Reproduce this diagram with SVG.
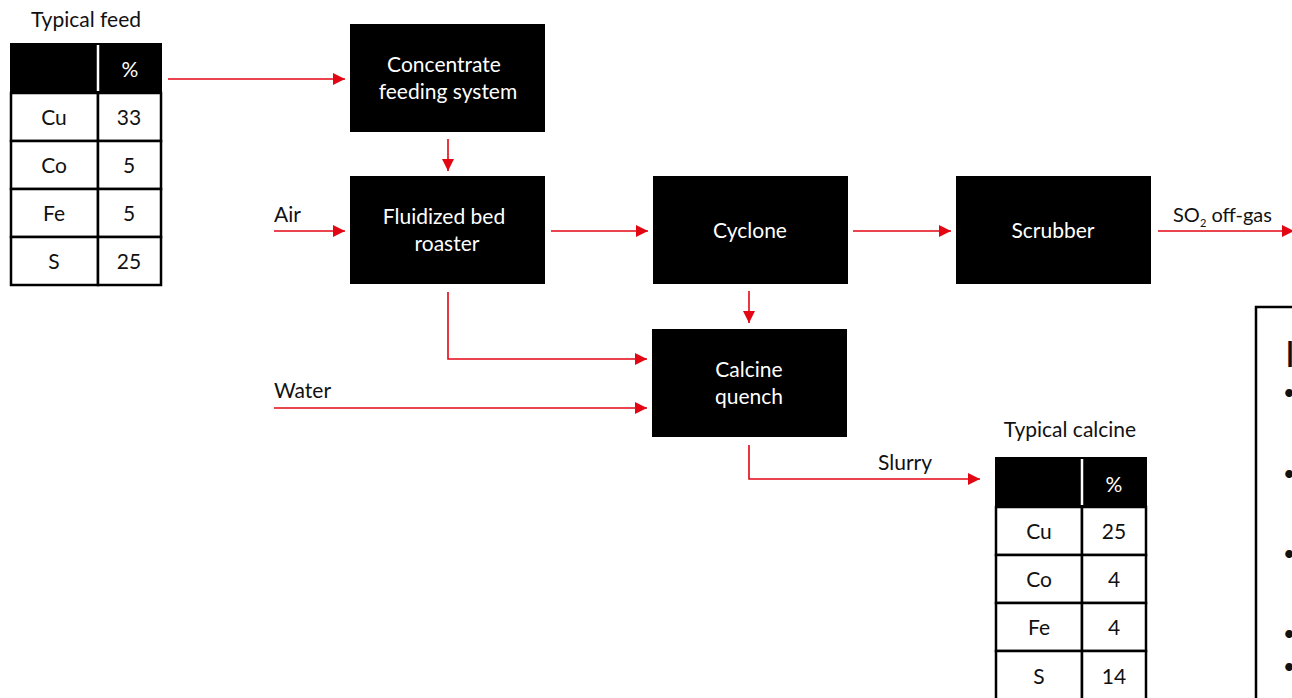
<svg xmlns="http://www.w3.org/2000/svg" width="1292" height="698" viewBox="0 0 1292 698">
<style>
text{font-family:Lato,"Noto Sans","Liberation Sans",sans-serif;font-size:21px;font-weight:400;fill:#111}
.w{fill:#fff;text-anchor:middle}
.c{text-anchor:middle}
.box{fill:#000}
.cell{fill:#fff;stroke:#000;stroke-width:2.5}
.con{fill:none;stroke:#e30613;stroke-width:1.6;marker-end:url(#ah)}
</style>
<defs>
<marker id="ah" markerUnits="userSpaceOnUse" markerWidth="13" markerHeight="12" refX="12" refY="6" orient="auto">
<path d="M0,0 L12,6 L0,12 z" fill="#e30613"/>
</marker>
</defs>
<rect width="1292" height="698" fill="#fff"/>

<g id="feed-table">
<text class="c" x="86" y="27">Typical feed</text>
<rect x="10" y="43" width="152" height="50" fill="#000"/>
<line x1="98" y1="45" x2="98" y2="91" stroke="#fff" stroke-width="2.5"/>
<text class="w" x="130" y="77">%</text>
<rect class="cell" x="11" y="93" width="87" height="48"/>
<rect class="cell" x="98" y="93" width="63" height="48"/>
<rect class="cell" x="11" y="141" width="87" height="48"/>
<rect class="cell" x="98" y="141" width="63" height="48"/>
<rect class="cell" x="11" y="189" width="87" height="48"/>
<rect class="cell" x="98" y="189" width="63" height="48"/>
<rect class="cell" x="11" y="237" width="87" height="48"/>
<rect class="cell" x="98" y="237" width="63" height="48"/>
<text class="c" x="54" y="125">Cu</text><text class="c" x="129" y="125">33</text>
<text class="c" x="54" y="173">Co</text><text class="c" x="129" y="173">5</text>
<text class="c" x="54" y="221">Fe</text><text class="c" x="129" y="221">5</text>
<text class="c" x="54" y="269">S</text><text class="c" x="129" y="269">25</text>
</g>

<g id="concentrate-feeding">
<rect class="box" x="350" y="24" width="195" height="108"/>
<text class="w" x="444" y="72">Concentrate</text>
<text class="w" x="448" y="99">feeding system</text>
</g>

<g id="roaster">
<rect class="box" x="350" y="176" width="195" height="108"/>
<text class="w" x="444" y="224">Fluidized bed</text>
<text class="w" x="447" y="251">roaster</text>
</g>

<g id="cyclone">
<rect class="box" x="653" y="176" width="195" height="108"/>
<text class="w" x="750" y="238">Cyclone</text>
</g>

<g id="scrubber">
<rect class="box" x="956" y="176" width="195" height="108"/>
<text class="w" x="1053" y="238">Scrubber</text>
</g>

<g id="calcine-quench">
<rect class="box" x="652" y="329" width="195" height="108"/>
<text class="w" x="749" y="377">Calcine</text>
<text class="w" x="749" y="404">quench</text>
</g>

<g id="calcine-table">
<text class="c" x="1070" y="437">Typical calcine</text>
<rect x="995" y="457" width="152" height="50" fill="#000"/>
<line x1="1082" y1="459" x2="1082" y2="505" stroke="#fff" stroke-width="2.5"/>
<text class="w" x="1114" y="492">%</text>
<rect class="cell" x="996" y="507" width="86" height="48"/>
<rect class="cell" x="1082" y="507" width="64" height="48"/>
<rect class="cell" x="996" y="555" width="86" height="48"/>
<rect class="cell" x="1082" y="555" width="64" height="48"/>
<rect class="cell" x="996" y="603" width="86" height="48"/>
<rect class="cell" x="1082" y="603" width="64" height="48"/>
<rect class="cell" x="996" y="651" width="86" height="60"/>
<rect class="cell" x="1082" y="651" width="64" height="60"/>
<text class="c" x="1039" y="539">Cu</text><text class="c" x="1114" y="539">25</text>
<text class="c" x="1039" y="587">Co</text><text class="c" x="1114" y="587">4</text>
<text class="c" x="1039" y="635">Fe</text><text class="c" x="1114" y="635">4</text>
<text class="c" x="1039" y="684">S</text><text class="c" x="1114" y="684">14</text>
</g>

<g id="notes-box">
<rect x="1256" y="307" width="60" height="420" fill="none" stroke="#000" stroke-width="2.5"/>
<text x="1285" y="367" style="font-size:36px">I</text>
<text x="1283" y="400">•</text>
<text x="1283" y="481">•</text>
<text x="1283" y="561">•</text>
<text x="1283" y="641">•</text>
<text x="1283" y="674">•</text>
</g>

<g id="connectors">
<line class="con" x1="168" y1="79" x2="345" y2="79"/>
<line class="con" x1="448" y1="139" x2="448" y2="171"/>
<line class="con" x1="274" y1="231" x2="345" y2="231"/>
<line class="con" x1="551" y1="231" x2="648" y2="231"/>
<line class="con" x1="853" y1="231" x2="951" y2="231"/>
<line class="con" x1="1158" y1="231" x2="1294" y2="231"/>
<line class="con" x1="749" y1="291" x2="749" y2="323"/>
<path class="con" d="M448,292 V359 H647"/>
<line class="con" x1="274" y1="408" x2="647" y2="408"/>
<path class="con" d="M749,445 V479 H980"/>
<text x="274" y="222">Air</text>
<text x="274" y="398">Water</text>
<text x="878" y="470">Slurry</text>
<text x="1173" y="222" style="font-size:20px">SO<tspan dy="5" style="font-size:11px">2</tspan><tspan dy="-5"> off-gas</tspan></text>
</g>
</svg>
